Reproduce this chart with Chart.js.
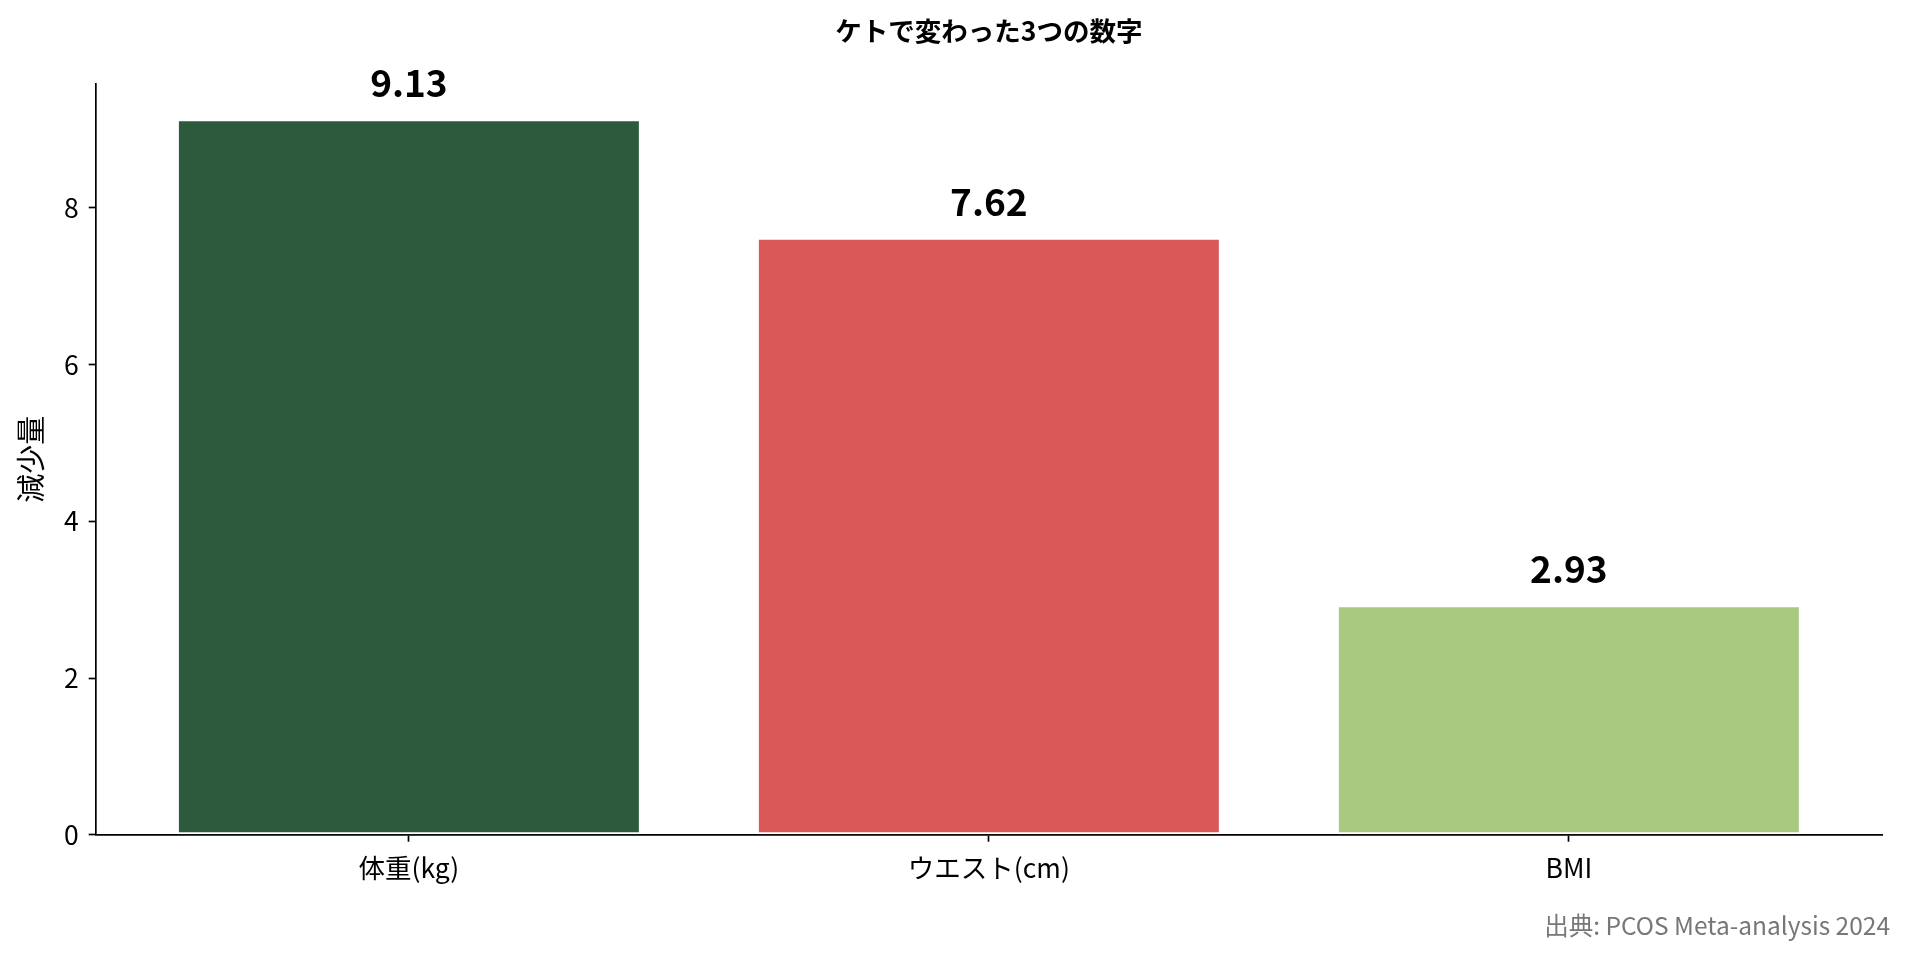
<!DOCTYPE html>
<html lang="ja">
<head>
<meta charset="utf-8">
<title>ケトで変わった3つの数字</title>
<script src="https://cdn.jsdelivr.net/npm/chart.js@4.4.1/dist/chart.umd.min.js"></script>
<style>
  html, body { margin: 0; padding: 0; background: #fff; }
  #wrap { width: 1910px; height: 959px; }
</style>
</head>
<body>
<div id="wrap"><canvas id="chart" width="1910" height="959"></canvas></div>
<script>
// Data
const categories = ['体重(kg)', 'ウエスト(cm)', 'BMI'];
const reductions = [9.13, 7.62, 2.93];
const barColors = ['#2d5a3d', '#da5858', '#a8c97f'];
const yTicks = [0, 2, 4, 6, 8];
const chartTitle = 'ケトで変わった3つの数字';
const yTitle = '減少量';
const sourceNote = '出典: PCOS Meta-analysis 2024';

const FONT = '"Noto Sans CJK JP", "Noto Sans", sans-serif';

// Title, value labels above the bars and source note
const annotatePlugin = {
  id: 'annotate',
  afterDraw(chart) {
    const ctx = chart.ctx;
    const area = chart.chartArea;
    ctx.save();

    ctx.fillStyle = '#000';
    ctx.font = 'bold 26.5px ' + FONT;
    ctx.textAlign = 'center';
    ctx.textBaseline = 'middle';
    ctx.fillText(chartTitle, (area.left + area.right) / 2, 31);

    const meta = chart.getDatasetMeta(0);
    ctx.font = 'bold 37px ' + FONT;
    ctx.textBaseline = 'alphabetic';
    meta.data.forEach((bar, i) => {
      ctx.fillText(reductions[i].toFixed(2), bar.x, bar.y - 22);
    });

    ctx.font = '24.5px ' + FONT;
    ctx.fillStyle = '#777';
    ctx.textAlign = 'right';
    ctx.textBaseline = 'middle';
    ctx.fillText(sourceNote, 1890, 926);

    ctx.restore();
  }
};

const ctx = document.getElementById('chart').getContext('2d');

new Chart(ctx, {
  type: 'bar',
  data: {
    datasets: [{
      data: reductions.map((v, i) => ({ x: i, y: v })),
      backgroundColor: barColors,
      borderColor: '#fff',
      borderWidth: 2,
      borderSkipped: false,
      barPercentage: 0.8,
      categoryPercentage: 1.0
    }]
  },
  options: {
    responsive: false,
    devicePixelRatio: 1,
    animation: false,
    layout: { padding: { top: 83.6, right: 28, bottom: 0, left: 0 } },
    plugins: {
      legend: { display: false },
      tooltip: { enabled: false }
    },
    scales: {
      x: {
        type: 'linear',
        min: -0.54,
        max: 2.54,
        offset: false,
        afterBuildTicks: (scale) => {
          scale.ticks = categories.map((c, i) => ({ value: i }));
        },
        afterFit: (scale) => { scale.height = 124.3; },
        grid: {
          offset: false,
          drawOnChartArea: false,
          drawTicks: true,
          tickLength: 7,
          tickWidth: 1.7,
          tickColor: '#000'
        },
        border: { display: true, color: '#000', width: 1.7 },
        ticks: {
          color: '#000',
          padding: 10,
          font: { family: FONT, size: 26.5 },
          callback: (value) => categories[value] ?? ''
        }
      },
      y: {
        type: 'linear',
        min: 0,
        max: 9.13 * 1.05,
        bounds: 'data',
        afterBuildTicks: (scale) => {
          scale.ticks = yTicks.map(v => ({ value: v }));
        },
        afterFit: (scale) => { scale.width = 95.7; },
        grid: {
          drawOnChartArea: false,
          drawTicks: true,
          tickLength: 7,
          tickWidth: 1.7,
          tickColor: '#000'
        },
        border: { display: true, color: '#000', width: 1.7 },
        title: {
          display: true,
          text: yTitle,
          color: '#000',
          font: { family: FONT, size: 29 },
          padding: { top: 14, bottom: 0 }
        },
        ticks: {
          color: '#000',
          padding: 10,
          font: { family: FONT, size: 26.5 },
          callback: (value) => String(value)
        }
      }
    }
  },
  plugins: [annotatePlugin]
});
</script>
</body>
</html>
